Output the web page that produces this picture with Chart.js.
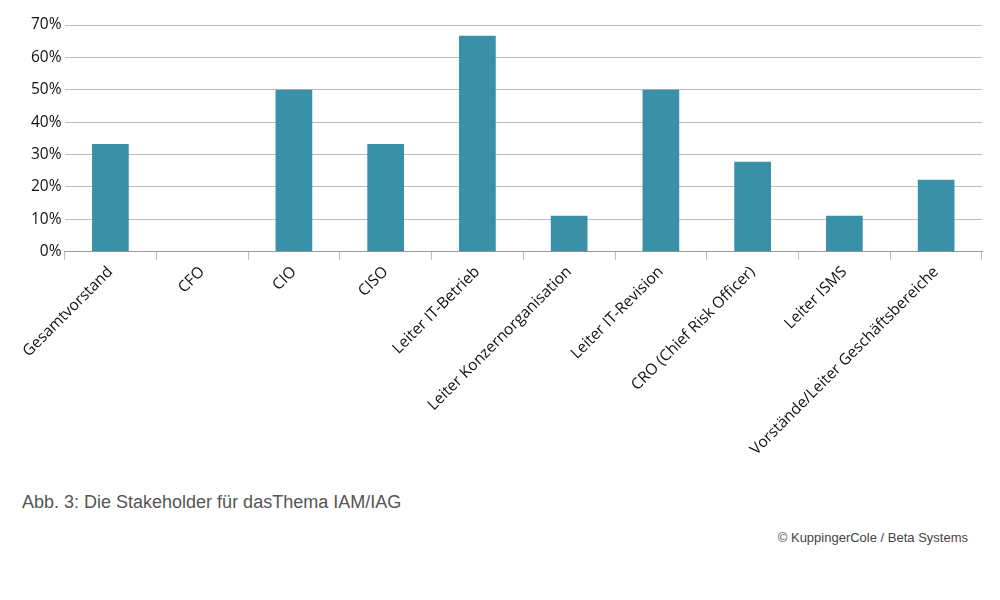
<!DOCTYPE html>
<html lang="de">
<head>
<meta charset="UTF-8">
<title>Stakeholder IAM/IAG</title>
<script src="https://cdn.jsdelivr.net/npm/chart.js"></script>
<style>
  body { margin: 0; background: #fff; font-family: "Liberation Sans", Arial, sans-serif; }
  #wrap { position: relative; width: 1000px; height: 600px; }
  #chartBox { position: absolute; left: 0; top: 0; width: 1000px; height: 462px; }
  #caption { position: absolute; left: 22px; top: 492px; font-size: 18px; color: #555; }
  #credit { position: absolute; right: 32px; top: 530px; font-size: 13px; color: #444; }
</style>
</head>
<body>
<div id="wrap">
  <div id="chartBox"><canvas id="chart"></canvas></div>
  <div id="caption">Abb. 3: Die Stakeholder für dasThema IAM/IAG</div>
  <div id="credit">© KuppingerCole / Beta Systems</div>
</div>
<script>
var categories = ["Gesamtvorstand", "CFO", "CIO", "CISO", "Leiter IT-Betrieb",
  "Leiter Konzernorganisation", "Leiter IT-Revision", "CRO (Chief Risk Officer)",
  "Leiter ISMS", "Vorstände/Leiter Geschäftsbereiche"];
var shares = [33.3, 0, 50, 33.3, 66.7, 11.1, 50, 27.8, 11.1, 22.2];
var tickFont = { family: "'Open Sans', 'Liberation Sans', sans-serif", size: 15.5, weight: "500" };

new Chart(document.getElementById("chart"), {
  type: "bar",
  data: {
    labels: categories,
    datasets: [{
      data: shares,
      backgroundColor: "#3a90a7",
      barPercentage: 0.5,
      categoryPercentage: 0.8
    }]
  },
  options: {
    responsive: true,
    maintainAspectRatio: false,
    animation: false,
    layout: { padding: { left: 28, right: 18, top: 25 } },
    plugins: { legend: { display: false }, tooltip: { enabled: false } },
    scales: {
      y: {
        min: 0, max: 70,
        ticks: { stepSize: 10, color: "#111", font: tickFont, callback: function (v) { return v + "%"; } },
        grid: { color: "#bdbdbd", drawTicks: false },
        border: { display: false }
      },
      x: {
        ticks: { color: "#111", font: tickFont, minRotation: 45, maxRotation: 45, autoSkip: false },
        grid: { display: true, color: "#bdbdbd", offset: true, drawOnChartArea: false, tickLength: 8 },
        border: { color: "#999" }
      }
    }
  }
});
</script>
</body>
</html>
